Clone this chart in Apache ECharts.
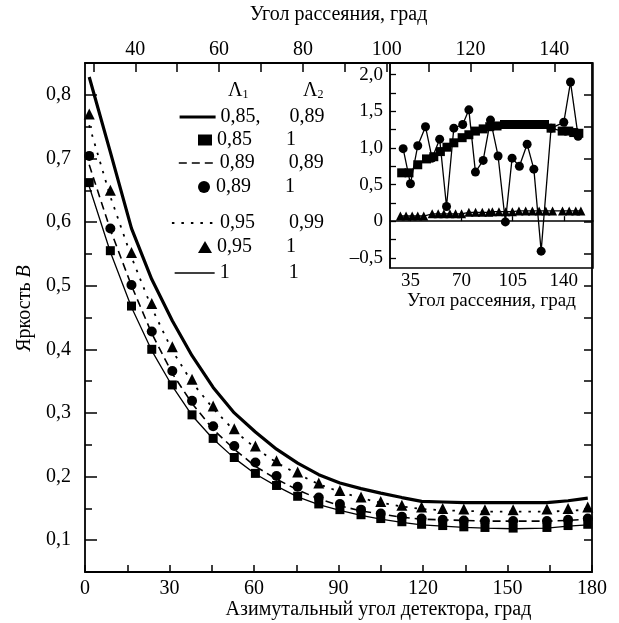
<!DOCTYPE html>
<html><head><meta charset="utf-8">
<script src="https://cdn.jsdelivr.net/npm/echarts@6/dist/echarts.min.js"></script>
<style>html,body{margin:0;padding:0;background:#fff}#c{width:619px;height:623px}</style>
</head><body><div id="c"></div>
<script>
// ---- main chart data (azimuthal detector angle, brightness B) ----
const detectorAngles = [1.5, 9, 16.5, 23.7, 31, 38, 45.5, 53, 60.5, 68, 75.5, 83, 90.5, 98, 105, 112.5, 119.5, 127, 134.5, 142, 152, 164, 171.5, 178.5];
const lineThick_085_089 = [0.828, 0.71, 0.59, 0.51, 0.445, 0.39, 0.34, 0.30, 0.27, 0.243, 0.221, 0.203, 0.19, 0.181, 0.174, 0.167, 0.161, 0.160, 0.159, 0.159, 0.159, 0.159, 0.162, 0.166];
const squares_085_1 = [0.662, 0.555, 0.468, 0.400, 0.344, 0.297, 0.260, 0.230, 0.205, 0.186, 0.169, 0.157, 0.148, 0.140, 0.134, 0.129, 0.125, 0.123, 0.121, 0.120, 0.119, 0.120, 0.123, 0.125];
const lineDashed_089_089 = [0.69, 0.588, 0.50, 0.425, 0.362, 0.315, 0.274, 0.243, 0.216, 0.196, 0.179, 0.165, 0.154, 0.146, 0.141, 0.136, 0.133, 0.132, 0.131, 0.130, 0.130, 0.130, 0.131, 0.133];
const circles_089_1 = [0.704, 0.590, 0.501, 0.428, 0.366, 0.319, 0.279, 0.248, 0.222, 0.201, 0.184, 0.167, 0.157, 0.148, 0.142, 0.137, 0.134, 0.132, 0.131, 0.130, 0.130, 0.130, 0.132, 0.134];
const lineDotted_095_099 = [0.752, 0.64, 0.545, 0.465, 0.398, 0.348, 0.307, 0.272, 0.245, 0.222, 0.204, 0.188, 0.176, 0.166, 0.159, 0.153, 0.149, 0.147, 0.146, 0.145, 0.145, 0.145, 0.146, 0.148];
const triangles_095_1 = [0.770, 0.650, 0.552, 0.472, 0.404, 0.353, 0.311, 0.275, 0.248, 0.225, 0.207, 0.190, 0.178, 0.168, 0.161, 0.155, 0.152, 0.150, 0.149, 0.148, 0.148, 0.149, 0.150, 0.152];
const lineThin_1_1 = [0.656, 0.553, 0.466, 0.398, 0.342, 0.296, 0.259, 0.229, 0.204, 0.185, 0.168, 0.156, 0.147, 0.139, 0.133, 0.128, 0.124, 0.122, 0.120, 0.119, 0.118, 0.119, 0.122, 0.124];

// legend labels (Λ1, Λ2)
const lambda1 = ['0,85,', '0,85', '0,89', '0,89', '0,95', '0,95', '1'];
const lambda2 = ['0,89', '1', '0,89', '1', '0,99', '1', '1'];

// ticks / labels
const bottomTickStep = 15;
const topTickValues = [30, 40, 50, 60, 70, 80, 90, 100, 110, 120, 130, 140];
const topLabelValues = [40, 60, 80, 100, 120, 140];
const leftMajorValues = [0.1, 0.2, 0.3, 0.4, 0.5, 0.6, 0.7, 0.8];

// ---- inset data (scattering angle) ----
const insetSqX = [29, 34, 40, 46, 51, 55.5, 60, 64.7, 70.4, 75, 79.5, 84.8, 89.3, 94.3, 99.4, 104, 108.6, 113.1, 117.7, 122.3, 126.8, 131.3, 138.9, 143.4, 146.8, 150.3];
const insetSqY = [0.66, 0.66, 0.77, 0.85, 0.88, 0.95, 1.01, 1.07, 1.14, 1.18, 1.23, 1.26, 1.29, 1.30, 1.32, 1.32, 1.32, 1.32, 1.32, 1.32, 1.32, 1.27, 1.23, 1.23, 1.21, 1.20];
const insetCircX = [30, 35, 40, 45.3, 49.8, 55, 59.7, 64.7, 70.8, 75, 79.5, 84.8, 89.8, 95, 100, 104.6, 109.6, 114.9, 119.5, 124.5, 131.3, 140, 144.6, 149.8];
const insetCircY = [0.99, 0.51, 1.03, 1.29, 0.86, 1.12, 0.20, 1.27, 1.32, 1.52, 0.67, 0.83, 1.38, 0.89, -0.01, 0.86, 0.75, 1.05, 0.71, -0.41, 1.27, 1.35, 1.90, 1.16];
const insetTriX = [28.1, 32, 36.2, 40, 44.1, 49.9, 54, 57.9, 62, 65.9, 70, 75, 79.6, 84.2, 88.7, 91.1, 95.6, 100.2, 104.8, 109.3, 113.9, 118.5, 123.1, 127.7, 132.3, 139.1, 143.7, 148.2, 151.7];
const insetTriY = [0.07, 0.07, 0.07, 0.07, 0.07, 0.10, 0.10, 0.10, 0.10, 0.10, 0.10, 0.12, 0.12, 0.12, 0.12, 0.13, 0.13, 0.13, 0.13, 0.14, 0.14, 0.14, 0.14, 0.14, 0.14, 0.14, 0.14, 0.14, 0.14];
const insetXLabels = [35, 70, 105, 140];
const insetYLabels = [-0.5, 0, 0.5, 1.0, 1.5, 2.0];
const insetYTicks = [-0.5, -0.25, 0, 0.25, 0.5, 0.75, 1.0, 1.25, 1.5, 1.75, 2.0];

const FONT = 'Liberation Serif';
const FS = 20;      // main text size
const FSI = 19;     // inset text size
const BLACK = '#000';
const zip = (xs, ys) => xs.map((x, i) => [x, ys[i]]);
const names = lambda1.map((a, i) => a + '; ' + lambda2[i]);
const comma = v => v.toFixed(1).replace('.', ',');

const chart = echarts.init(document.getElementById('c'), null, {renderer: 'canvas'});

const lineSeries = (name, data, width, type) => ({
  name, type: 'line', xAxisIndex: 0, yAxisIndex: 0, data: zip(detectorAngles, data),
  symbol: 'none', showSymbol: false, silent: true, color: BLACK,
  lineStyle: {color: BLACK, width, type}, z: 3
});
const scatterSeries = (name, data, symbol, size) => ({
  name, type: 'scatter', xAxisIndex: 0, yAxisIndex: 0, data: zip(detectorAngles, data),
  symbol, symbolSize: size, color: BLACK, itemStyle: {color: BLACK, opacity: 1}, silent: true, z: 4
});

const legendItem = (i, left, top, w, h, lineWidth) => {
  const l = {
    data: [names[i]], left, top, itemWidth: w, itemHeight: h, selectedMode: false,
    orient: 'vertical', itemGap: 0, padding: 0,
    formatter: n => { const p = n.split('; '); return '{a|' + p[0] + '}{b|' + p[1] + '}'; },
    textStyle: {fontFamily: FONT, fontSize: FS, color: BLACK,
      rich: {a: {width: 69, fontFamily: FONT, fontSize: FS, color: BLACK}, b: {fontFamily: FONT, fontSize: FS, color: BLACK}}}
  };
  if (lineWidth) {
    l.itemStyle = {color: 'rgba(0,0,0,0)', borderWidth: 0, opacity: 0};
    l.lineStyle = {width: lineWidth, color: BLACK};
  } else {
    l.itemStyle = {color: BLACK, opacity: 1};
  }
  return l;
};

const option = {
  animation: false,
  backgroundColor: '#fff',
  color: [BLACK],
  textStyle: {fontFamily: FONT},
  grid: [
    {left: 85, right: 27, top: 63, bottom: 51, outerBoundsMode: 'none', containLabel: false},
    {left: 85, right: 27, top: 63, bottom: 51, outerBoundsMode: 'none', containLabel: false},
    {left: 390, right: 26, top: 63, height: 205, outerBoundsMode: 'none', containLabel: false,
     show: true, borderColor: BLACK, borderWidth: 1.5, backgroundColor: 'transparent'}
  ],
  xAxis: [
    {gridIndex: 0, type: 'value', position: 'bottom', min: 0, max: 180, interval: bottomTickStep,
     axisLine: {show: true, lineStyle: {color: BLACK, width: 1.8}},
     axisTick: {show: true, inside: true, length: 7, lineStyle: {color: BLACK, width: 1.5}},
     axisLabel: {fontFamily: FONT, fontSize: FS, color: BLACK, margin: 7,
       formatter: v => (Math.round(v) % 30 === 0 ? String(v) : '')},
     splitLine: {show: false},
     name: 'Азимутальный угол детектора, град', nameLocation: 'middle', nameGap: 28, nameMoveOverlap: false,
     nameTextStyle: {fontFamily: FONT, fontSize: FS, color: BLACK, padding: [0, 0, 0, 80]}},
    {gridIndex: 0, type: 'value', position: 'top', min: 28, max: 149,
     axisLine: {show: true, lineStyle: {color: BLACK, width: 1.8}},
     axisTick: {show: true, inside: true, length: 9, customValues: topTickValues, lineStyle: {color: BLACK, width: 1.5}},
     axisLabel: {fontFamily: FONT, fontSize: FS, color: BLACK, margin: 3, customValues: topLabelValues},
     splitLine: {show: false},
     name: 'Угол рассеяния, град', nameLocation: 'middle', nameGap: 38, nameMoveOverlap: false,
     nameTextStyle: {fontFamily: FONT, fontSize: FS, color: BLACK}},
    {gridIndex: 1, type: 'value', min: 0, max: 180, show: false},
    {gridIndex: 2, type: 'value', position: 'bottom', min: 21, max: 160,
     axisLine: {show: true, lineStyle: {color: BLACK, width: 1.5}},
     axisTick: {show: true, inside: true, length: 5, customValues: insetXLabels, lineStyle: {color: BLACK, width: 1.3}},
     axisLabel: {fontFamily: FONT, fontSize: FSI, color: BLACK, margin: 4, customValues: insetXLabels},
     splitLine: {show: false},
     name: 'Угол рассеяния, град', nameLocation: 'middle', nameGap: 22,
     nameTextStyle: {fontFamily: FONT, fontSize: FSI, color: BLACK}}
  ],
  yAxis: [
    {gridIndex: 0, type: 'value', position: 'left', min: 0.05, max: 0.85, interval: 0.05,
     axisLine: {show: true, lineStyle: {color: BLACK, width: 1.8}},
     axisTick: {show: true, inside: true, length: 7, lineStyle: {color: BLACK, width: 1.5}},
     axisLabel: {fontFamily: FONT, fontSize: FS, color: BLACK, margin: 14,
       formatter: v => (Math.round(v * 100) % 10 === 0 ? comma(v) : '')},
     splitLine: {show: false},
     name: '{n|Яркость }{i|B}', nameLocation: 'middle', nameGap: 46, nameRotate: 90,
     nameTextStyle: {fontFamily: FONT, fontSize: FS, color: BLACK, padding: [0, 0, 0, 18],
       rich: {n: {fontFamily: FONT, fontSize: FS, color: BLACK}, i: {fontFamily: FONT, fontSize: FS, color: BLACK, fontStyle: 'italic'}}}},
    {gridIndex: 0, type: 'value', position: 'right', min: 0.05, max: 0.85, interval: 0.05,
     axisLine: {show: true, lineStyle: {color: BLACK, width: 1.8}},
     axisTick: {show: true, inside: true, length: 8, lineStyle: {color: BLACK, width: 1.5}},
     axisLabel: {show: false}, splitLine: {show: false}},
    {gridIndex: 1, type: 'value', position: 'left', min: 0.05, max: 0.85,
     axisLine: {show: false},
     axisTick: {show: true, inside: true, length: 12, customValues: leftMajorValues, lineStyle: {color: BLACK, width: 1.5}},
     axisLabel: {show: false}, splitLine: {show: false}},
    {gridIndex: 2, type: 'value', position: 'left', min: -0.64, max: 2.16,
     axisLine: {show: true, lineStyle: {color: BLACK, width: 1.5}},
     axisTick: {show: true, inside: true, length: 6, customValues: insetYTicks, lineStyle: {color: BLACK, width: 1.3}},
     axisLabel: {fontFamily: FONT, fontSize: FSI, color: BLACK, margin: 7, customValues: insetYLabels,
       formatter: v => (Math.abs(v) < 1e-9 ? '0' : (v < 0 ? '\u2013' : '') + comma(Math.abs(v)))},
     splitLine: {show: false}}
  ],
  legend: [
    legendItem(0, 178, 107, 36, 14, 3.2),
    legendItem(1, 198, 130, 14, 11, 0),
    legendItem(2, 178, 153, 36, 14, 1.6),
    legendItem(3, 198, 177, 14, 12, 0),
    legendItem(4, 171, 213, 43, 14, 1.8),
    legendItem(5, 198, 237, 14, 12, 0),
    legendItem(6, 174, 263, 40, 14, 1.3)
  ],
  graphic: [
    {type: 'text', left: 228, top: 81, style: {text: '{l|Λ}{s|1}', rich: {l: {fontFamily: FONT, fontSize: FS, fill: BLACK}, s: {fontFamily: FONT, fontSize: 12, fill: BLACK, padding: [8, 0, 0, 0]}}}},
    {type: 'text', left: 303, top: 81, style: {text: '{l|Λ}{s|2}', rich: {l: {fontFamily: FONT, fontSize: FS, fill: BLACK}, s: {fontFamily: FONT, fontSize: 12, fill: BLACK, padding: [8, 0, 0, 0]}}}}
  ],
  series: [
    lineSeries(names[0], lineThick_085_089, 3.2, 'solid'),
    scatterSeries(names[1], squares_085_1, 'rect', 9),
    lineSeries(names[2], lineDashed_089_089, 1.6, [8, 5]),
    scatterSeries(names[3], circles_089_1, 'circle', 10),
    lineSeries(names[4], lineDotted_095_099, 1.8, [2.5, 7]),
    scatterSeries(names[5], triangles_095_1, 'triangle', 11),
    lineSeries(names[6], lineThin_1_1, 1.3, 'solid'),
    {name: 'inset-tri', type: 'line', xAxisIndex: 3, yAxisIndex: 3, data: zip(insetTriX, insetTriY),
     symbol: 'triangle', symbolSize: 9, showSymbol: true, color: BLACK, lineStyle: {color: BLACK, width: 1.3}, itemStyle: {color: BLACK}, silent: true},
    {name: 'inset-sq', type: 'line', xAxisIndex: 3, yAxisIndex: 3, data: zip(insetSqX, insetSqY),
     symbol: 'rect', symbolSize: 9, showSymbol: true, color: BLACK, lineStyle: {color: BLACK, width: 1.3}, itemStyle: {color: BLACK}, silent: true},
    {name: 'inset-circ', type: 'line', xAxisIndex: 3, yAxisIndex: 3, data: zip(insetCircX, insetCircY),
     symbol: 'circle', symbolSize: 9, showSymbol: true, color: BLACK, lineStyle: {color: BLACK, width: 1.3}, itemStyle: {color: BLACK}, silent: true}
  ]
};
chart.setOption(option);
</script>
</body></html>
